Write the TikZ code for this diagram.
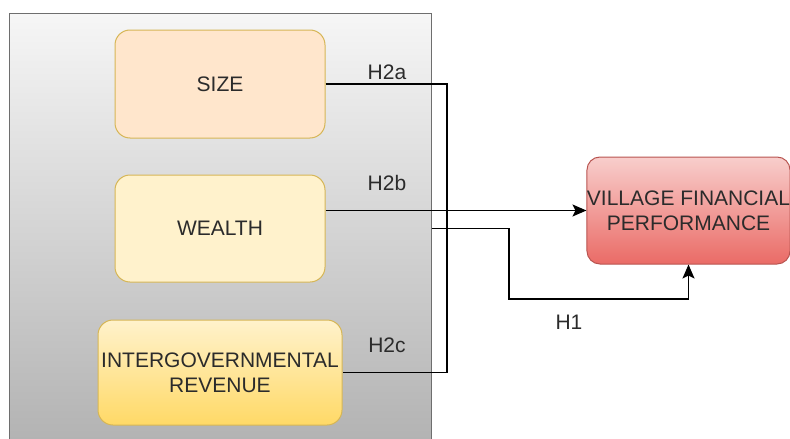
\documentclass[tikz,border=0pt]{standalone}
\usepackage{fontspec}
\setmainfont{Liberation Sans}
\usetikzlibrary{arrows.meta,positioning}
\definecolor{Ink}{HTML}{2B2B2B}
\definecolor{PanelTop}{HTML}{F6F6F6}
\definecolor{PanelBot}{HTML}{B2B2B2}
\definecolor{PanelLine}{HTML}{6E6E6E}
\definecolor{Peach}{HTML}{FFE6CC}
\definecolor{Cream}{HTML}{FFF2CC}
\definecolor{Gold}{HTML}{FFD966}
\definecolor{GoldLine}{HTML}{D6B656}
\definecolor{RoseTop}{HTML}{F8CECC}
\definecolor{RoseBot}{HTML}{EA6B66}
\definecolor{RoseLine}{HTML}{B85450}

\begin{document}
\begin{tikzpicture}[x=1pt,y=-1pt,
    every node/.style={text=Ink,font=\fontsize{21}{25}\selectfont,align=center},
    varbox/.style={draw=GoldLine,line width=1pt,rounded corners=15pt,inner sep=0pt},
    link/.style={black,line width=1.8pt},
    arrow/.style={link,-{Stealth[length=14pt,width=12pt,inset=3pt]}}]
    \useasboundingbox (0,0) rectangle (790,439);

    \node[draw=PanelLine,line width=1pt,top color=PanelTop,bottom color=PanelBot,
      minimum width=422pt,minimum height=433pt,inner sep=0pt] (frame) at (220,229.5) {};

    \node[varbox,fill=Peach,minimum width=210pt,minimum height=108pt] (size) at (220,84) {SIZE};
    \node[varbox,fill=Cream,minimum width=210pt,minimum height=107pt] (wealth) at (220,228.5) {WEALTH};
    \node[varbox,top color=Cream,bottom color=Gold,minimum width=244pt,minimum height=105pt] (intergov) at (220,372.5) {INTERGOVERNMENTAL\\REVENUE};

    \node[draw=RoseLine,line width=1pt,rounded corners=13pt,top color=RoseTop,bottom color=RoseBot,
      minimum width=201pt,minimum height=107pt,inner sep=0pt] (village) at (688.5,210.5) {VILLAGE FINANCIAL\\PERFORMANCE};

    \coordinate (bus) at (447,84);
    \coordinate (h1bend) at (509,299);

    \draw[link] (size.east) -- (bus) |- (intergov.east);
    \draw[arrow] (wealth.east |- village.west) -- (village.west);
    \draw[arrow] (frame.east |- wealth.east) -| (h1bend) -| (village.south);

    \node (h2a) at (387,72) {H2a};
    \node (h2b) at (387,183) {H2b};
    \node (h2c) at (387,345) {H2c};
    \node (h1) at (569,322) {H1};
  \end{tikzpicture}
\end{document}
